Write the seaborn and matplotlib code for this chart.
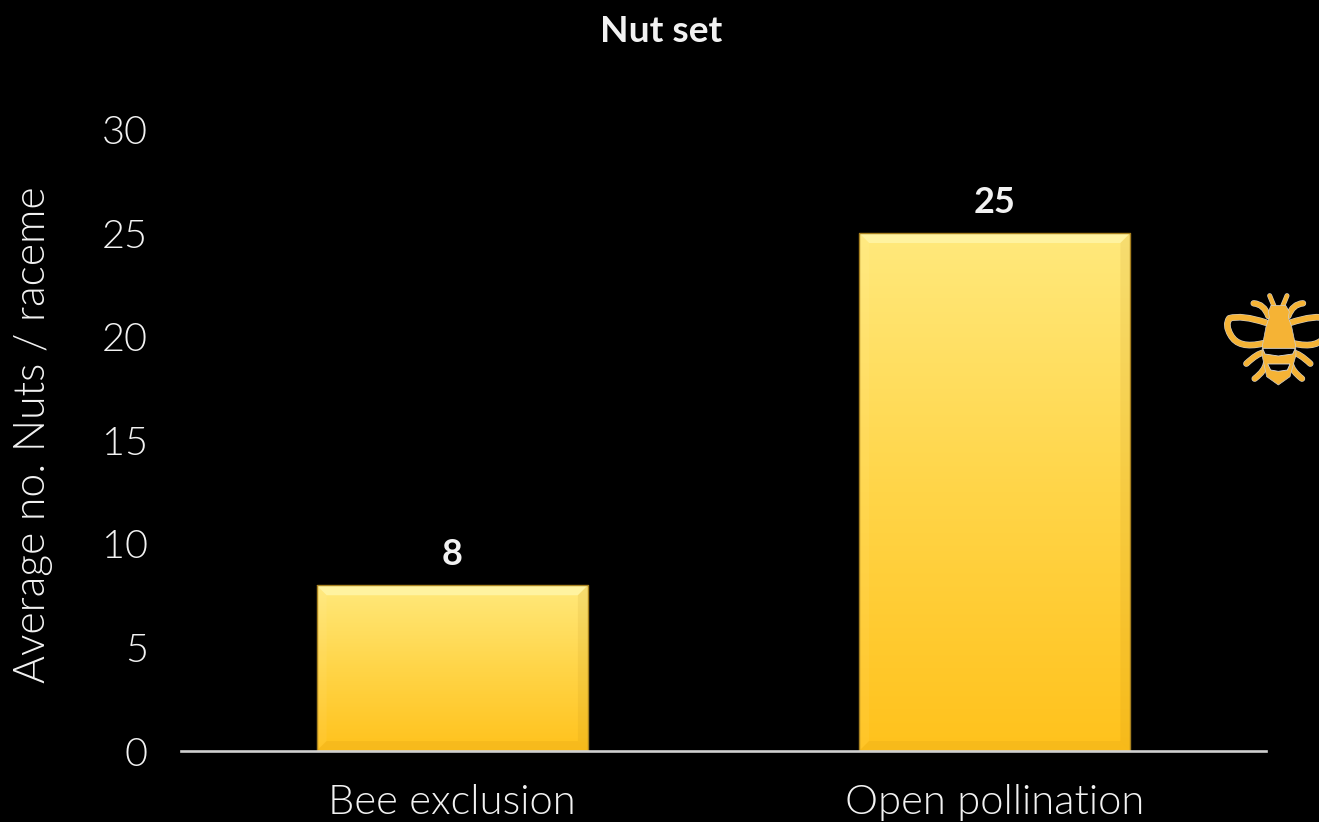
import numpy as np
import pandas as pd
import matplotlib
matplotlib.use("Agg")
import matplotlib.pyplot as plt
import matplotlib.patheffects as pe
from matplotlib.colors import LinearSegmentedColormap
from matplotlib.patches import Polygon, PathPatch
from matplotlib.path import Path
import seaborn as sns

categories = ["Bee exclusion", "Open pollination"]
values = [8, 25]
yticks = [0, 5, 10, 15, 20, 25, 30]
title = "Nut set"
ylabel = "Average no. Nuts / raceme"

BG = "#000000"
FG = "#f2f2f2"
W, H = 1319, 822
sns.set_theme(style="dark", rc={"figure.facecolor": BG, "axes.facecolor": BG})
plt.rcParams["font.family"] = ["Lato", "DejaVu Sans"]

fig = plt.figure(figsize=(W / 100, H / 100), dpi=100, facecolor=BG)
ax = fig.add_axes([181 / W, 1 - 751 / H, (1266 - 181) / W, (751 - 129.4) / H], facecolor=BG)

df = pd.DataFrame({"cat": categories, "val": values})
sns.barplot(data=df, x="cat", y="val", ax=ax, width=0.5, color="#ffd54a", errorbar=None)
ax.set_xlim(-0.5, 1.5)
ax.set_ylim(0, 30)

grad = LinearSegmentedColormap.from_list("g", ["#ffc21c", "#ffd548", "#ffe97c"])
gv = np.linspace(1, 0, 256).reshape(-1, 1)
xu = 1 / 542.5   # data units per pixel
yu = 30 / (751 - 129.4)
bev = 10
for p, v in zip(ax.patches, values):
    x0, x1 = p.get_x(), p.get_x() + p.get_width()
    ax.imshow(gv, extent=[x0, x1, 0, v], cmap=grad, aspect="auto", zorder=3, vmin=0, vmax=1)
    p.set_visible(False)
    dx, dy = bev * xu, bev * yu
    ax.add_patch(Polygon([(x0, v), (x1, v), (x1 - dx, v - dy), (x0 + dx, v - dy)], fc="#fff3a0", ec="none", zorder=4))
    ax.add_patch(Polygon([(x0, v), (x0 + dx, v - dy), (x0 + dx, dy), (x0, 0)], fc="#ffffff", alpha=0.05, ec="none", zorder=4))
    ax.add_patch(Polygon([(x1, v), (x1 - dx, v - dy), (x1 - dx, dy), (x1, 0)], fc="#b07a10", alpha=0.10, ec="none", zorder=4))
    ax.add_patch(Polygon([(x0, 0), (x0 + dx, dy), (x1 - dx, dy), (x1, 0)], fc="#c98a10", alpha=0.14, ec="none", zorder=4))
    ax.plot([x0, x0, x1, x1], [0, v, v, 0], color="#a8811f", lw=1, zorder=5)
    ax.text((x0 + x1) / 2, v + 31 * yu, str(v), ha="center", va="center", color=FG,
            fontsize=26, fontweight="bold", zorder=6)

ax.set_xlim(-0.5, 1.5)
ax.set_ylim(0, 30)
for s in ["top", "left", "right"]:
    ax.spines[s].set_visible(False)
ax.spines["bottom"].set_color("#cfcfcf")
ax.spines["bottom"].set_linewidth(1.9)
ax.spines["bottom"].set_zorder(7)
ax.grid(False)
ax.set_yticks(yticks)
ax.set_xticks(range(len(categories)))
ax.set_xticklabels(categories)
ax.tick_params(axis="both", length=0, colors=FG)
ax.tick_params(axis="y", pad=24, labelsize=28.5)
ax.tick_params(axis="x", pad=24, labelsize=30.1)
for t in ax.get_xticklabels() + ax.get_yticklabels():
    t.set_fontweight(300)
ax.set_xlabel("")
ax.set_ylabel("")

fig.text(34 / W, 1 - 435 / H, ylabel, rotation=90, ha="center", va="center", color=FG,
         fontsize=30.7, fontweight=300)
fig.text(661 / W, 1 - 31 / H, title, ha="center", va="center", color=FG, fontsize=26.7, fontweight="bold")

# bee icon, decoration drawn in a pixel-space overlay
bee = fig.add_axes([0, 0, 1, 1], facecolor="none")
bee.set_xlim(0, W)
bee.set_ylim(H, 0)
bee.axis("off")
BEE = "#f5b335"

def Z(pts, mirror=False):
    a = np.array(pts, float)
    cx = 235.0
    if mirror:
        a[:, 0] = 2 * cx - a[:, 0]
    return np.c_[a[:, 0] / 3 + 1200, a[:, 1] / 3 + 280]

def curve(pts, mirror=False, lw=3.4):
    a = Z(pts, mirror)
    codes = [Path.MOVETO] + [Path.CURVE3] * (len(a) - 1)
    bee.add_patch(PathPatch(Path(a, codes), fc="none", ec=BEE, lw=lw, capstyle="round",
                            joinstyle="round", path_effects=[pe.withStroke(linewidth=lw + 0.8, foreground="#cfcfcf")]))

wing = [(198, 128), (125, 104), (88, 115), (74, 135), (92, 165), (115, 208), (190, 190)]
antenna = [(222, 78), (215, 62), (209, 47)]
fore = [(205, 108), (192, 72), (161, 70)]
mid = [(190, 218), (172, 220), (139, 251)]
low = [(198, 250), (195, 272), (164, 296)]
for m in (False, True):
    curve(wing, m, 4.0)
    curve(antenna, m, 2.8)
    curve(fore, m, 3.8)
    curve(mid, m, 3.8)
    curve(low, m, 3.8)

body = [(205, 95), (213, 76), (257, 76), (268, 95), (265, 112), (275, 140), (287, 198), (288, 225),
        (270, 290), (235, 315), (200, 290), (186, 225), (187, 198), (198, 140), (208, 112)]
bee.add_patch(Polygon(Z(body), fc=BEE, ec="#cfcfcf", lw=0.5))
stripe1 = [(188, 205), (286, 205), (278, 222), (235, 228), (195, 222)]
stripe2 = [(203, 252), (270, 252), (262, 270), (235, 274), (212, 270)]
bee.add_patch(Polygon(Z(stripe1), fc="#000000", ec="#d9d9d9", lw=0.6))
bee.add_patch(Polygon(Z(stripe2), fc="#000000", ec="#d9d9d9", lw=0.6))

fig.savefig("out.png", dpi=100, facecolor=BG)
